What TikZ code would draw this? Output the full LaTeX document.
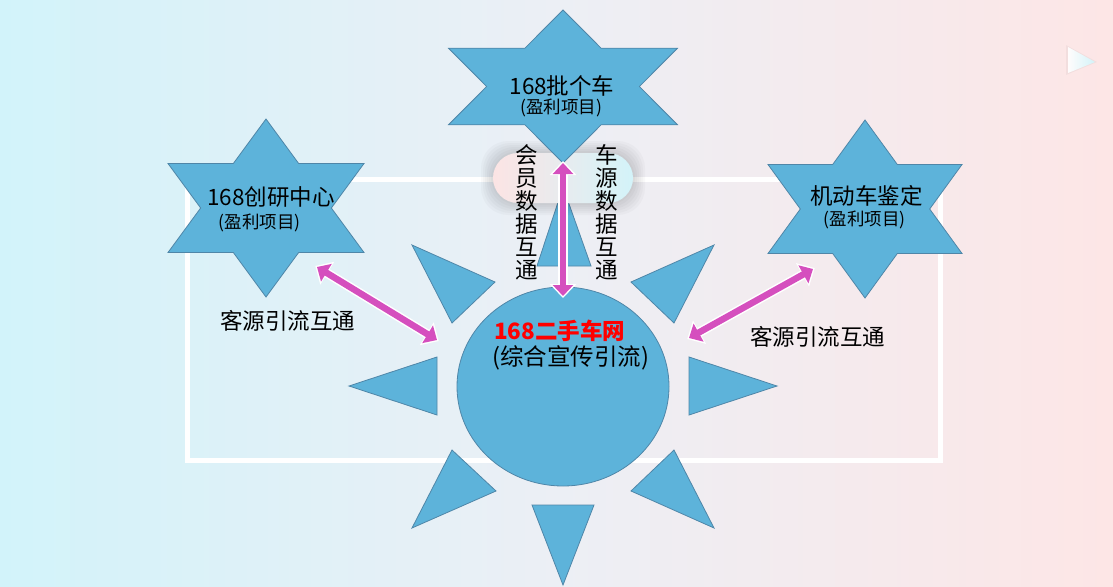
\documentclass[tikz,border=0pt]{standalone}
\usepackage{fontspec}
\newfontfamily\cjk{Noto Sans CJK SC}
\usetikzlibrary{arrows.meta,shapes.geometric}
\definecolor{bgleft}{HTML}{D2F3FA}
\definecolor{bgmid}{HTML}{ECEFF5}
\definecolor{bgright}{HTML}{FDE6E6}
\definecolor{rayblue}{HTML}{5DB3DA}
\definecolor{rayline}{HTML}{4F86A8}
\definecolor{linkpink}{HTML}{D54FBE}
\definecolor{pillpink}{HTML}{FCE4E4}
\definecolor{pillcyan}{HTML}{D3F3F9}

\begin{document}
\begin{tikzpicture}[x=1pt, y=-1pt, every node/.style={font=\cjk, inner sep=0pt},
  ray/.style={fill=rayblue, draw=rayline, line width=0.8pt},
  title/.style={font=\cjk\fontsize{22.5}{22.5}\selectfont},
  subtitle/.style={font=\cjk\fontsize{17.5}{17.5}\selectfont},
  link/.style={draw=linkpink, line width=6.5pt,
    {Triangle[width=20pt,length=11pt]}-{Triangle[width=20pt,length=11pt]},
    preaction={draw=white, line width=9.5pt,
      {Triangle[width=26pt,length=14pt]}-{Triangle[width=26pt,length=14pt]},
      shorten <=-2pt, shorten >=-2pt}}]
\useasboundingbox (0,0) rectangle (1113,586);
% Draw background
\shade[left color=bgleft, right color=bgright, middle color=bgmid] (0,0) rectangle (1113,586);
\draw[white, line width=5pt] (187,179.5) rectangle (940.5,460);
% Draw play button
\fill[gray, opacity=0.08] (1066,45) -- (1097,62) -- (1066,75) -- cycle;
\shade[left color=white!90!pillpink, right color=pillcyan] (1068,47) -- (1095,62) -- (1068,73) -- cycle;
% Draw sun rays
\foreach \ax/\ay/\bx/\by/\cx/\cy in {537/266/591/266/563/187, 532/505/594/505/563/585,
    437/357/437/415/349/386, 689/357/689/415/777/386,
    412/245/495/282/452/323, 714/245/631/282/674/323,
    412/528/452/450/496/491, 714/528/674/450/631/491}
  \draw[ray] (\ax,\ay) -- (\bx,\by) -- (\cx,\cy) -- cycle;
% Draw center
\node[ellipse, ray, minimum width=212pt, minimum height=199pt] (wang) at (563,386.5) {};
% Draw pill behind data labels
\foreach \g in {1,...,6}
  \fill[black, opacity=0.025, rounded corners=27pt] (493-2*\g,153-2*\g) rectangle (633+2*\g,203+2*\g);
\shade[left color=pillpink, right color=pillcyan, rounded corners=25pt] (493,153) rectangle (633,203);
% Draw stars
\foreach \cx/\cy/\a/\b in {563/86.5/114.5/76.5, 266/208/98/89, 865/209/97/89}
  \draw[ray, shift={(\cx,\cy)}, xscale=\a, yscale=\b] (0,-1) -- (1/3,-1/2) -- (1,-1/2) -- (2/3,0)
    -- (1,1/2) -- (1/3,1/2) -- (0,1) -- (-1/3,1/2) -- (-1,1/2) -- (-2/3,0) -- (-1,-1/2) -- (-1/3,-1/2) -- cycle;
% Draw arrows
\coordinate (piEnd) at (563,163);
\coordinate (wangTop) at (563,296);
\coordinate (cyEnd) at (317,267);
\coordinate (wangLeft) at (437,340);
\coordinate (jdEnd) at (813,269);
\coordinate (wangRight) at (689,338);
\draw[link] (piEnd) -- (wangTop);
\draw[link] (cyEnd) -- (wangLeft);
\draw[link] (jdEnd) -- (wangRight);
% Draw labels
\node[title] (pi) at (562,86) {168批个车};
\node[subtitle] (pisub) at (561,108) {(盈利项目)};
\node[title] (cy) at (271,197) {168创研中心};
\node[subtitle] (cysub) at (259.5,223) {(盈利项目)};
\node[title] (jd) at (866.5,196) {机动车鉴定};
\node[subtitle] (jdsub) at (864.5,220) {(盈利项目)};
\node[title, anchor=west, text=red, font=\cjk\bfseries\fontsize{22.5}{22.5}\selectfont] (wangname) at (494,331) {168二手车网};
\node[title, anchor=west, font=\cjk\fontsize{23.5}{23.5}\selectfont] (wangsub) at (492,358) {(综合宣传引流)};
\node[title] (kyleft) at (287.5,321) {客源引流互通};
\node[title] (kyright) at (817.5,337) {客源引流互通};
\node[title, align=center, font=\cjk\fontsize{22.5}{23}\selectfont] (hy) at (527,212) {会\\员\\数\\据\\互\\通};
\node[title, align=center, font=\cjk\fontsize{22.5}{23}\selectfont] (cheyuan) at (607,212) {车\\源\\数\\据\\互\\通};
\end{tikzpicture}
\end{document}
